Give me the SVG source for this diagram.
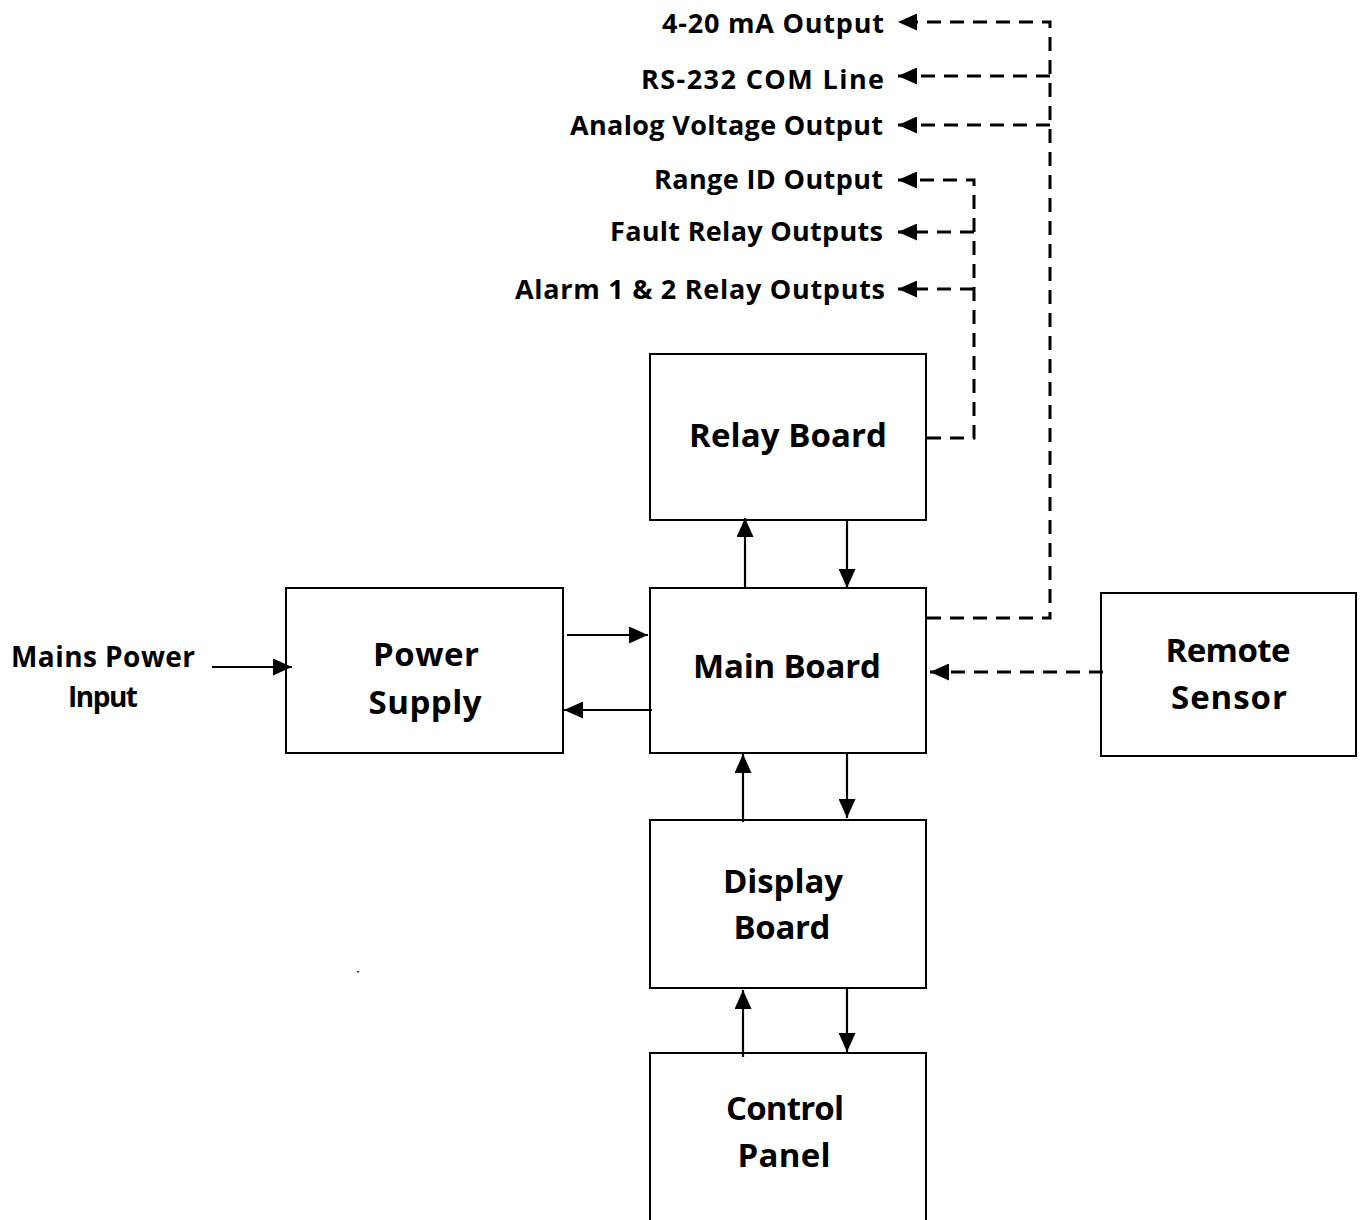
<svg xmlns="http://www.w3.org/2000/svg" width="1362" height="1220" viewBox="0 0 1362 1220">
<defs>
<marker id="ahb" viewBox="0 0 10 10" refX="10" refY="5" markerWidth="19" markerHeight="17" markerUnits="userSpaceOnUse" orient="auto" preserveAspectRatio="none"><path d="M0,0 L10,5 L0,10 z" fill="#000"/></marker>
<style>
.box{fill:#fff;stroke:#000;stroke-width:2}
.t{font-family:"Open Sans","Liberation Sans",sans-serif;font-weight:700;fill:#000}
.big{font-size:33px;text-anchor:middle}
.lab{font-size:27px;text-anchor:end}
.sol{stroke:#000;stroke-width:2.2;fill:none}
.dash{stroke:#000;stroke-width:3;fill:none;stroke-dasharray:14 9}
</style>
</defs>
<rect width="1362" height="1220" fill="#fff"/>
<g id="relay-board"><rect class="box" x="650" y="354" width="276" height="166"/><text class="t big" x="788" y="447" textLength="198">Relay Board</text></g>
<g id="main-board"><rect class="box" x="650" y="588" width="276" height="165"/><text class="t big" x="787" y="678" textLength="188">Main Board</text></g>
<g id="power-supply"><rect class="box" x="286" y="588" width="277" height="165"/><text class="t big" x="426" y="666" textLength="106">Power</text><text class="t big" x="425" y="714" textLength="113">Supply</text></g>
<g id="remote-sensor"><rect class="box" x="1101" y="593" width="255" height="163" stroke-width="1.5"/><text class="t big" x="1228" y="662" textLength="125">Remote</text><text class="t big" x="1229" y="709" textLength="116">Sensor</text></g>
<g id="display-board"><rect class="box" x="650" y="820" width="276" height="168"/><text class="t big" x="783" y="893" textLength="120">Display</text><text class="t big" x="782" y="939" textLength="97">Board</text></g>
<g id="control-panel"><rect class="box" x="650" y="1053" width="276" height="180"/><text class="t big" x="785" y="1120" textLength="118">Control</text><text class="t big" x="784" y="1167" textLength="93">Panel</text></g>
<g id="mains-label"><text class="t" font-size="28" text-anchor="middle" x="103" y="667" textLength="184">Mains Power</text><text class="t" font-size="28" text-anchor="middle" x="103" y="707" textLength="70">Input</text></g>
<g id="output-labels">
<text class="t lab" x="884" y="33" textLength="222">4-20 mA Output</text>
<text class="t lab" x="884" y="89" textLength="243">RS-232 COM Line</text>
<text class="t lab" x="883" y="135" textLength="313">Analog Voltage Output</text>
<text class="t lab" x="883" y="189" textLength="229">Range ID Output</text>
<text class="t lab" x="883" y="241" textLength="273">Fault Relay Outputs</text>
<text class="t lab" x="885" y="299" textLength="370">Alarm 1 &amp; 2 Relay Outputs</text>
</g>
<g id="connectors">
<line class="sol" x1="212" y1="667" x2="292" y2="667" marker-end="url(#ahb)"/>
<line class="sol" x1="567" y1="635" x2="648" y2="635" marker-end="url(#ahb)"/>
<line class="sol" x1="652" y1="710" x2="564" y2="710" marker-end="url(#ahb)"/>
<line class="sol" x1="745" y1="588" x2="745" y2="518" marker-end="url(#ahb)"/>
<line class="sol" x1="847" y1="520" x2="847" y2="588" marker-end="url(#ahb)"/>
<line class="sol" x1="743" y1="822" x2="743" y2="754" marker-end="url(#ahb)"/>
<line class="sol" x1="847" y1="753" x2="847" y2="818" marker-end="url(#ahb)"/>
<line class="sol" x1="743" y1="1057" x2="743" y2="990" marker-end="url(#ahb)"/>
<line class="sol" x1="847" y1="988" x2="847" y2="1052" marker-end="url(#ahb)"/>
<line class="dash" x1="1103" y1="672" x2="930" y2="672" marker-end="url(#ahb)"/>
<polyline class="dash" points="927,618 1050,618 1050,22 898,22" marker-end="url(#ahb)"/>
<line class="dash" x1="1050" y1="76" x2="898" y2="76" marker-end="url(#ahb)"/>
<line class="dash" x1="1050" y1="125" x2="898" y2="125" marker-end="url(#ahb)"/>
<polyline class="dash" points="927,438 974,438 974,180 898,180" marker-end="url(#ahb)"/>
<line class="dash" x1="974" y1="232" x2="898" y2="232" marker-end="url(#ahb)"/>
<line class="dash" x1="974" y1="289" x2="898" y2="289" marker-end="url(#ahb)"/>
</g>
<rect x="357" y="971" width="2" height="1.5" fill="#333"/>
</svg>
